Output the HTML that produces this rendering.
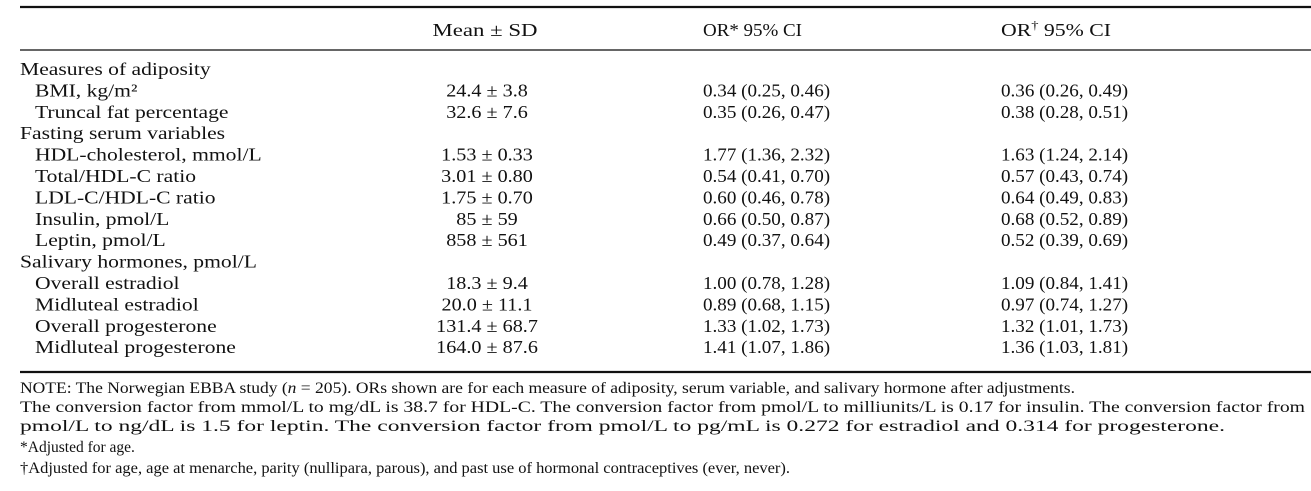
<!DOCTYPE html>
<html><head><meta charset="utf-8"><style>
html,body{margin:0;padding:0;background:#fff;}
svg{display:block;font-family:"Liberation Serif",serif;fill:#111;}
</style></head><body>
<svg id="tbl" width="1311" height="491" viewBox="0 0 1311 491" xmlns="http://www.w3.org/2000/svg">
<rect width="1311" height="491" fill="#fff"/>
<line x1="20" y1="7" x2="1311" y2="7" stroke="#111" stroke-width="2.2"/>
<line x1="20" y1="50" x2="1311" y2="50" stroke="#333" stroke-width="1.5"/>
<line x1="20" y1="372" x2="1311" y2="372" stroke="#111" stroke-width="2.2"/>
<g id="hdr" font-size="18">
<text x="485" y="36" text-anchor="middle" textLength="105" lengthAdjust="spacingAndGlyphs">Mean ± SD</text>
<text x="703" y="36" textLength="99" lengthAdjust="spacingAndGlyphs">OR* 95% CI</text>
<text x="1001" y="36" textLength="110" lengthAdjust="spacingAndGlyphs">OR<tspan dy="-7" font-size="12">†</tspan><tspan dy="7"> 95% CI</tspan></text>
</g>
<g id="rows" font-size="18"></g>
<g id="notes" font-size="15.5">
<text x="20" y="393" textLength="1055" lengthAdjust="spacingAndGlyphs">NOTE: The Norwegian EBBA study (<tspan font-style="italic">n</tspan> = 205). ORs shown are for each measure of adiposity, serum variable, and salivary hormone after adjustments.</text>
<text x="20" y="412" textLength="1285" lengthAdjust="spacingAndGlyphs">The conversion factor from mmol/L to mg/dL is 38.7 for HDL-C. The conversion factor from pmol/L to milliunits/L is 0.17 for insulin. The conversion factor from</text>
<text x="20" y="431" textLength="1205" lengthAdjust="spacingAndGlyphs">pmol/L to ng/dL is 1.5 for leptin. The conversion factor from pmol/L to pg/mL is 0.272 for estradiol and 0.314 for progesterone.</text>
<text x="20" y="452">*Adjusted for age.</text>
<text x="20" y="473" textLength="770" lengthAdjust="spacingAndGlyphs">†Adjusted for age, age at menarche, parity (nullipara, parous), and past use of hormonal contraceptives (ever, never).</text>
</g>
</svg>
<script>
const labels = ["Measures of adiposity","BMI, kg/m²","Truncal fat percentage","Fasting serum variables","HDL-cholesterol, mmol/L","Total/HDL-C ratio","LDL-C/HDL-C ratio","Insulin, pmol/L","Leptin, pmol/L","Salivary hormones, pmol/L","Overall estradiol","Midluteal estradiol","Overall progesterone","Midluteal progesterone"];
const isCategory = [1,0,0,1,0,0,0,0,0,1,0,0,0,0];
const meanSD = ["","24.4 ± 3.8","32.6 ± 7.6","","1.53 ± 0.33","3.01 ± 0.80","1.75 ± 0.70","85 ± 59","858 ± 561","","18.3 ± 9.4","20.0 ± 11.1","131.4 ± 68.7","164.0 ± 87.6"];
const orAge = ["","0.34 (0.25, 0.46)","0.35 (0.26, 0.47)","","1.77 (1.36, 2.32)","0.54 (0.41, 0.70)","0.60 (0.46, 0.78)","0.66 (0.50, 0.87)","0.49 (0.37, 0.64)","","1.00 (0.78, 1.28)","0.89 (0.68, 1.15)","1.33 (1.02, 1.73)","1.41 (1.07, 1.86)"];
const orAdj = ["","0.36 (0.26, 0.49)","0.38 (0.28, 0.51)","","1.63 (1.24, 2.14)","0.57 (0.43, 0.74)","0.64 (0.49, 0.83)","0.68 (0.52, 0.89)","0.52 (0.39, 0.69)","","1.09 (0.84, 1.41)","0.97 (0.74, 1.27)","1.32 (1.01, 1.73)","1.36 (1.03, 1.81)"];
const NS="http://www.w3.org/2000/svg";
const g=document.getElementById('rows');
function mk(x,y,txt,anchor,sx,name){
  const t=document.createElementNS(NS,'text');
  t.setAttribute('transform','translate('+x+','+y+') scale('+sx+',1)');
  t.setAttribute('text-anchor',anchor);
  t.textContent=txt;
  
  
  g.appendChild(t);
}
labels.forEach((lab,i)=>{
  const y=75+i*21.4;
  mk(isCategory[i]?20:35,y,lab,'start',1.2,isCategory[i]?'category-label':'row-label');
  if(meanSD[i]) mk(487,y,meanSD[i],'middle',1.12,'mean-sd-cell');
  if(orAge[i]) mk(703,y,orAge[i],'start',1.06,'or-age-cell');
  if(orAdj[i]) mk(1001,y,orAdj[i],'start',1.06,'or-adjusted-cell');
});
</script>
</body></html>
